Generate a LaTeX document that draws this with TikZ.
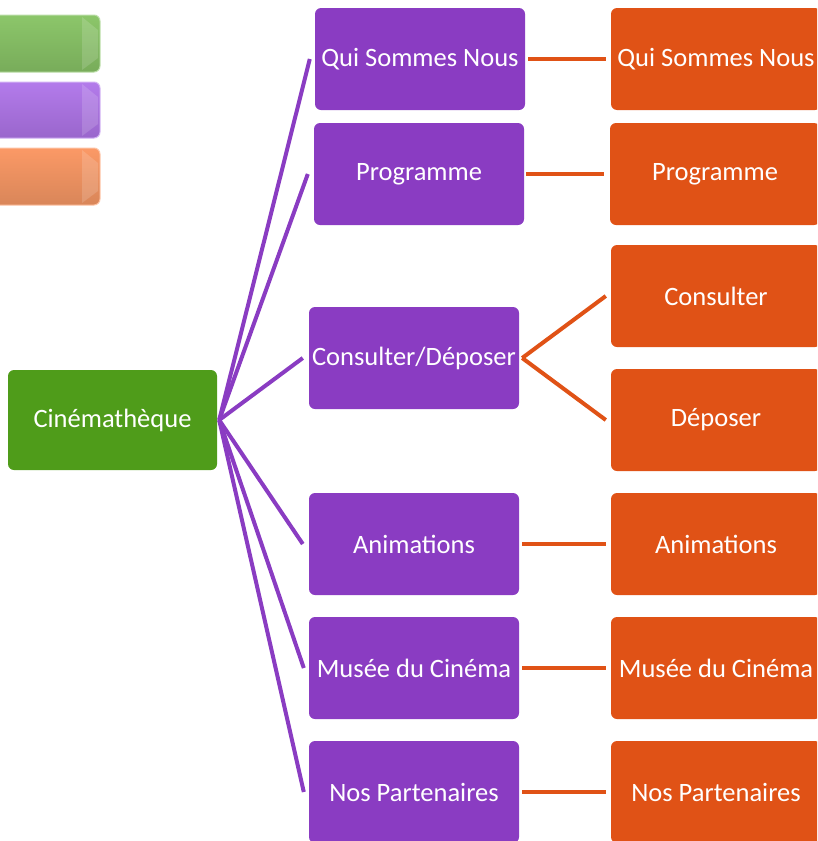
\documentclass[tikz,border=0pt]{standalone}
\usepackage{fontspec}
\setmainfont{Carlito}
\usetikzlibrary{calc}
\definecolor{cgreen}{HTML}{4F9C1A}
\definecolor{cpurple}{HTML}{8A3CC2}
\definecolor{corange}{HTML}{E05216}
\definecolor{lgtop}{HTML}{8CC66A}
\definecolor{lgbot}{HTML}{78AC5A}
\definecolor{lptop}{HTML}{B37BEB}
\definecolor{lpbot}{HTML}{9A66CC}
\definecolor{lotop}{HTML}{FB9966}
\definecolor{lobot}{HTML}{D98659}
\tikzset{
  x=1pt, y=-1pt,
  box/.style={rounded corners=6pt, minimum width=210pt, minimum height=102pt, inner sep=0pt, text=white, font=\fontsize{26.5}{30}\selectfont},
  gbox/.style={box, fill=cgreen},
  pbox/.style={box, fill=cpurple},
  obox/.style={box, fill=corange},
  pline/.style={draw=cpurple, line width=4pt},
  oline/.style={draw=corange, line width=4pt},
  bevel/.style={fill=white, opacity=0.15}
}
\begin{document}
\begin{tikzpicture}
\useasboundingbox (0,0) rectangle (817,841);
\begin{scope}
\clip (0,0) rectangle (817,841);
% legend boxes
\shade[rounded corners=6pt, top color=lgtop, bottom color=lgbot, draw=lgtop!60!white, line width=1pt] (-20,15) rectangle (100,72);
\shade[rounded corners=6pt, top color=lptop, bottom color=lpbot, draw=lptop!60!white, line width=1pt] (-20,82) rectangle (100,138);
\shade[rounded corners=6pt, top color=lotop, bottom color=lobot, draw=lotop!60!white, line width=1pt] (-20,148) rectangle (100,205);
\fill[bevel] (82,17) -- (98,30) -- (98,58) -- (82,70) -- cycle;
\fill[bevel] (82,84) -- (98,97) -- (98,124) -- (82,136) -- cycle;
\fill[bevel] (82,150) -- (98,163) -- (98,191) -- (82,203) -- cycle;

\node[gbox, minimum width=209pt, minimum height=100pt] (cine) at (112.5,420) {Cinémathèque};

\node[pbox] (qui) at (420,59) {Qui Sommes Nous};
\node[pbox] (prog) at (419,174) {Programme};
\node[pbox] (cons) at (414,358) {Consulter/Déposer};
\node[pbox] (anim) at (414,544) {Animations};
\node[pbox] (musee) at (414,668) {Musée du Cinéma};
\node[pbox] (part) at (414,792) {Nos Partenaires};

\node[obox] (oqui) at (716,59) {Qui Sommes Nous};
\node[obox] (oprog) at (715,174) {Programme};
\node[obox] (ocons) at (716,296) {Consulter};
\node[obox] (odep) at (716,420) {Déposer};
\node[obox] (oanim) at (716,544) {Animations};
\node[obox] (omusee) at (716,668) {Musée du Cinéma};
\node[obox] (opart) at (716,792) {Nos Partenaires};

\draw[pline] ([xshift=2pt]cine.east) -- ([xshift=-5pt]qui.west);
\draw[pline] ([xshift=2pt]cine.east) -- ([xshift=-6pt]prog.west);
\draw[pline] ([xshift=2pt]cine.east) -- ([xshift=-6pt]cons.west);
\draw[pline] ([xshift=2pt]cine.east) -- ([xshift=-6pt]anim.west);
\draw[pline] ([xshift=2pt]cine.east) -- ([xshift=-5pt]musee.west);
\draw[pline] ([xshift=2pt]cine.east) -- ([xshift=-5pt]part.west);

\draw[oline] ([xshift=3pt]qui.east) -- ([xshift=-5pt]oqui.west);
\draw[oline] ([xshift=2pt]prog.east) -- ([xshift=-6pt]oprog.west);
\draw[oline] ([xshift=3pt]cons.east) -- ([xshift=-5pt]ocons.west);
\draw[oline] ([xshift=3pt]cons.east) -- ([xshift=-5pt]odep.west);
\draw[oline] ([xshift=3pt]anim.east) -- ([xshift=-5pt]oanim.west);
\draw[oline] ([xshift=3pt]musee.east) -- ([xshift=-5pt]omusee.west);
\draw[oline] ([xshift=3pt]part.east) -- ([xshift=-5pt]opart.west);
\end{scope}
\end{tikzpicture}
\end{document}
